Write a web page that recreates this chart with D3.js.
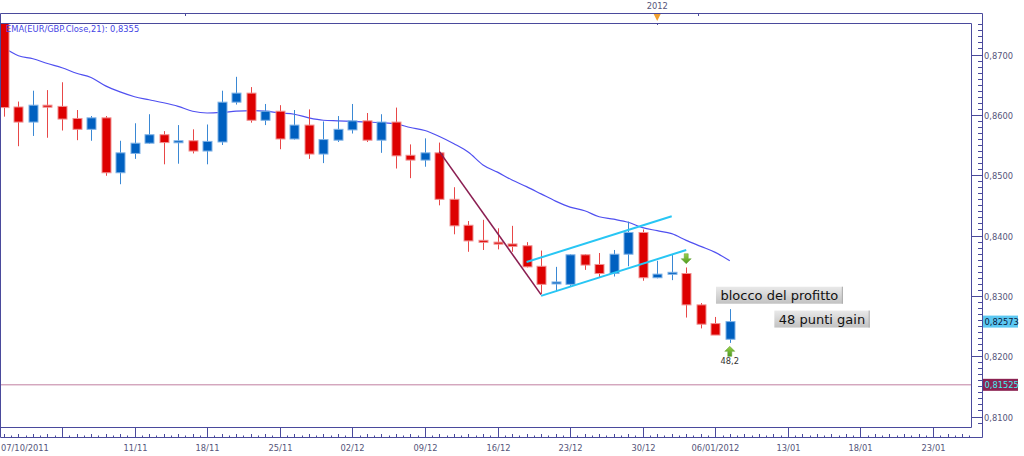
<!DOCTYPE html>
<html><head><meta charset="utf-8">
<script src="https://cdn.jsdelivr.net/npm/d3@7"></script>
<style>body{margin:0;background:#fff}svg{display:block}</style>
</head><body><svg id="c" width="1024" height="456"></svg>
<script>
// ---- DATA ----
const opens  = [0.8760,0.8613,0.8588,0.8616,0.8614,0.8594,0.8576,0.8595,0.8504,0.8536,0.8553,0.8567,0.8554,0.8557,0.8540,0.8555,0.8621,0.8636,0.8591,0.8606,0.8560,0.8583,0.8535,0.8558,0.8575,0.8590,0.8558,0.8588,0.8533,0.8525,0.8537,0.8460,0.8417,0.8392,0.8389,0.8386,0.8383,0.8349,0.8320,0.8319,0.8368,0.8352,0.8337,0.8369,0.8405,0.8330,0.8337,0.8337,0.8285,0.8254,0.8228];
const highs  = [0.8770,0.8622,0.8640,0.8641,0.8654,0.8608,0.8598,0.8598,0.8557,0.8586,0.8601,0.8573,0.8583,0.8576,0.8584,0.8640,0.8663,0.8646,0.8618,0.8616,0.8608,0.8609,0.8589,0.8598,0.8618,0.8603,0.8601,0.8612,0.8551,0.8561,0.8554,0.8480,0.8424,0.8426,0.8412,0.8416,0.8389,0.8375,0.8348,0.8369,0.8369,0.8371,0.8376,0.8423,0.8410,0.8358,0.8369,0.8347,0.8288,0.8265,0.8278];
const lows   = [0.8597,0.8548,0.8565,0.8562,0.8574,0.8558,0.8557,0.8499,0.8485,0.8527,0.8552,0.8518,0.8519,0.8536,0.8518,0.8550,0.8617,0.8587,0.8583,0.8543,0.8559,0.8527,0.8520,0.8555,0.8569,0.8555,0.8537,0.8511,0.8495,0.8514,0.8450,0.8402,0.8373,0.8376,0.8377,0.8373,0.8347,0.8303,0.8307,0.8315,0.8343,0.8331,0.8332,0.8349,0.8325,0.8329,0.8326,0.8264,0.8246,0.8235,0.8222];
const closes = [0.8612,0.8588,0.8616,0.8613,0.8593,0.8576,0.8595,0.8504,0.8537,0.8553,0.8567,0.8554,0.8557,0.8540,0.8556,0.8621,0.8636,0.8591,0.8606,0.8560,0.8583,0.8535,0.8559,0.8576,0.8590,0.8558,0.8588,0.8532,0.8525,0.8537,0.8460,0.8416,0.8391,0.8389,0.8386,0.8382,0.8348,0.8319,0.8323,0.8368,0.8351,0.8337,0.8369,0.8405,0.8330,0.8336,0.8339,0.8285,0.8253,0.8235,0.82573];
const ema21  = [0.8711,0.8698,0.8693,0.8685,0.8678,0.8669,0.8662,0.8648,0.8638,0.8630,0.8625,0.8620,0.8614,0.8606,0.8603,0.8604,0.8606,0.8607,0.8606,0.8603,0.8601,0.8595,0.8591,0.8590,0.8589,0.8588,0.8587,0.8585,0.8579,0.8574,0.8564,0.8552,0.8538,0.8517,0.8505,0.8492,0.8481,0.8469,0.8457,0.8447,0.8441,0.8431,0.8427,0.8422,0.8413,0.8408,0.8403,0.8392,0.8382,0.8372,0.8358];
const weekTickIdx    = [4,9,14,19,24,29,34,39,44,49,54,59,64];
const weekTickLabels = ["","11/11","18/11","25/11","02/12","09/12","16/12","23/12","30/12","06/01/2012","13/01","18/01","23/01"];
const firstDateLabel = "07/10/2011";
const priceTicks = [0.81,0.82,0.83,0.84,0.85,0.86,0.87];
const yearMarkIdx = 45, yearMarkLabel = "2012";
const topStripTicks = [12.47, 47.8];
const lastPrice = 0.82573, refLevel = 0.81525;
const emaLegend = "EMA(EUR/GBP.Close,21): 0,8355";
const trendLine   = [[30,0.8539],[37,0.8302]];
const channelUp   = [[36,0.8356],[46,0.8432]];
const channelLow  = [[37,0.8300],[47,0.8376]];
const notes = [
  {text:"blocco del profitto", i:49.05, v:0.8301},
  {text:"48 punti gain", i:53.07, v:0.82615}
];
const arrowDown = {i:47, v:0.83615};
const arrowUp = {i:50, v:0.8208, label:"48,2"};

// ---- LAYOUT ----
const L=0, R=971, T=23, B=427, RO=982, TO=13, BO=437;
const svg = d3.select("#c");
const x = d3.scaleLinear().domain([0,64]).range([3.93, 3.93+64*14.517]);
const y = d3.scaleLinear().domain([0.81,0.87]).range([416.5,54.5]);
const frame = "#4a4a9c", txt = "#55557a", font = "DejaVu Sans, Verdana, sans-serif";

const defs = svg.append("defs");
defs.append("clipPath").attr("id","plot").append("rect").attr("x",L+1).attr("y",T+1).attr("width",R-L-1).attr("height",B-T-1);
const g1 = defs.append("linearGradient").attr("id","boxg").attr("x1",0).attr("y1",0).attr("x2",0).attr("y2",1);
g1.append("stop").attr("offset","0").attr("stop-color","#e9e9e9");
g1.append("stop").attr("offset","1").attr("stop-color","#c2c2c2");
const g2 = defs.append("linearGradient").attr("id","arrg").attr("x1",0).attr("y1",0).attr("x2",0).attr("y2",1);
g2.append("stop").attr("offset","0").attr("stop-color","#9ad04a");
g2.append("stop").attr("offset","1").attr("stop-color","#4d9a1e");

// frames
svg.append("path").attr("d",`M0.5,${TO+.5}H${RO+.5}V${BO+.5}H0.5Z`).attr("fill","none").attr("stroke",frame);
svg.append("path").attr("d",`M0.5,${T+.5}H${R+.5}V${B+.5}H0.5`).attr("fill","none").attr("stroke",frame);

// top strip
topStripTicks.forEach(t=>svg.append("line").attr("x1",Math.round(x(t))+.5).attr("x2",Math.round(x(t))+.5).attr("y1",TO+1).attr("y2",TO+3).attr("stroke",frame));
const ym = x(yearMarkIdx);
svg.append("path").attr("d",`M${ym-3.5},${TO+1}L${ym+3.5},${TO+1}L${ym},${TO+8}Z`).attr("fill","#f0a030");
svg.append("line").attr("x1",Math.round(ym)+.5).attr("x2",Math.round(ym)+.5).attr("y1",T).attr("y2",T+2).attr("stroke",frame);
svg.append("text").attr("x",ym).attr("y",9).attr("text-anchor","middle").attr("font-family",font).attr("font-size",8.3).attr("fill",txt).text(yearMarkLabel);

// right axis
const minor = d3.range(806,876).map(d=>d/1000).filter(v=>y(v)>T&&y(v)<B);
minor.forEach(v=>{const yy=Math.round(y(v))+.5; svg.append("line").attr("x1",978).attr("x2",RO).attr("y1",yy).attr("y2",yy).attr("stroke",frame);});
priceTicks.forEach(v=>{const yy=Math.round(y(v))+.5;
  svg.append("line").attr("x1",R).attr("x2",RO).attr("y1",yy).attr("y2",yy).attr("stroke",frame);
  svg.append("text").attr("x",984).attr("y",yy+3).attr("font-family",font).attr("font-size",8.3).attr("fill",txt).text(d3.format(".4f")(v).replace(".",","));
});

// bottom axis
const halfTicks = d3.range(-0.5,66.6,0.5).filter(i=>x(i)>L&&x(i)<R);
halfTicks.forEach(i=>{const xx=Math.round(x(i))+.5; const full=Number.isInteger(i);
  svg.append("line").attr("x1",xx).attr("x2",xx).attr("y1",BO-(full?3:1.5)).attr("y2",BO).attr("stroke",frame);});
weekTickIdx.forEach((t,k)=>{const xx=Math.round(x(t))+.5;
  svg.append("line").attr("x1",xx).attr("x2",xx).attr("y1",B).attr("y2",BO).attr("stroke",frame);
  if(weekTickLabels[k]) svg.append("text").attr("x",xx).attr("y",451).attr("text-anchor","middle").attr("font-family",font).attr("font-size",8.3).attr("fill",txt).text(weekTickLabels[k]);
});
svg.append("text").attr("x",1).attr("y",451).attr("font-family",font).attr("font-size",8.3).attr("fill",txt).text(firstDateLabel);

// plot contents
const p = svg.append("g").attr("clip-path","url(#plot)");
p.append("line").attr("x1",L).attr("x2",R).attr("y1",y(refLevel)).attr("y2",y(refLevel)).attr("stroke","#c07fa0").attr("stroke-width",1);

// EMA
p.append("path").datum(ema21).attr("fill","none").attr("stroke","#5050f0").attr("stroke-width",1.2)
 .attr("d",d3.line().x((d,i)=>x(i)).y(d=>y(d)).curve(d3.curveMonotoneX));

// candles
opens.forEach((o,i)=>{
  const c=closes[i], up=c>=o, cx=Math.round(x(i));
  const col = up?"#0060c0":"#dd0000", wick = up?"#3a88d4":"#e84848", edge= up?"#7fb2e6":"#f09090";
  p.append("line").attr("x1",cx+.5).attr("x2",cx+.5).attr("y1",y(highs[i])).attr("y2",y(lows[i])).attr("stroke",wick);
  const top=y(Math.max(o,c)), bot=y(Math.min(o,c));
  const h=Math.max(2,bot-top);
  p.append("rect").attr("x",cx-4).attr("y",top).attr("width",9).attr("height",h).attr("fill",col).attr("stroke",edge).attr("stroke-width",1);
});

// drawn lines
const ln = d3.line().x(d=>x(d[0])).y(d=>y(d[1]));
p.append("path").datum(trendLine).attr("d",ln).attr("stroke","#8b1f52").attr("stroke-width",1.6).attr("fill","none");
[channelUp,channelLow].forEach(c=>p.append("path").datum(c).attr("d",ln).attr("stroke","#28c6f4").attr("stroke-width",2).attr("fill","none"));

// arrows
function arrow(cx,cy,down){
  const s = down?-1:1;
  const pts=[[0,-5],[5,0],[2,0],[2,5],[-2,5],[-2,0],[-5,0]].map(q=>[cx+q[0],cy+q[1]*s]);
  p.append("path").attr("d","M"+pts.join("L")+"Z").attr("fill","url(#arrg)").attr("stroke","#5a9a30").attr("stroke-width",0.5);
}
arrow(x(arrowDown.i),y(arrowDown.v),true);
arrow(x(arrowUp.i),y(arrowUp.v),false);
p.append("text").attr("x",x(arrowUp.i)).attr("y",y(arrowUp.v)+12.5).attr("text-anchor","middle").attr("font-family",font).attr("font-size",8.3).attr("fill","#333").text(arrowUp.label);

// notes
notes.forEach(n=>{
  const bx = x(n.i), cy = y(n.v);
  const t = p.append("text").attr("x",bx+4.5).attr("y",cy+5).attr("font-family",font).attr("font-size",13).attr("fill","#111").text(n.text);
  const w = t.node().getBBox().width + 9;
  p.insert("rect","text").attr("x",bx).attr("y",cy-8.5).attr("width",w).attr("height",17).attr("fill","url(#boxg)");
  p.insert("path","text").attr("d",`M${bx+w-0.5},${cy-8.5}V${cy+8.5}`).attr("stroke","#a9a9a9").attr("stroke-width",1);
});
// legend
svg.append("text").attr("x",6).attr("y",32).attr("font-family",font).attr("font-size",8.3).attr("fill","#4545e5").text(emaLegend);

// price labels
function tag(v,bg,fg){const yy=y(v);
  svg.append("rect").attr("x",983).attr("y",yy-6).attr("width",35).attr("height",12).attr("fill",bg);
  svg.append("text").attr("x",984.5).attr("y",yy+3).attr("font-family",font).attr("font-size",8.3).attr("fill",fg).text(d3.format(".5f")(v).replace(".",","));
}
tag(lastPrice,"#5cc8f2","#0a1a40");
tag(refLevel,"#8b2252","#40f0f0");
</script></body></html>
